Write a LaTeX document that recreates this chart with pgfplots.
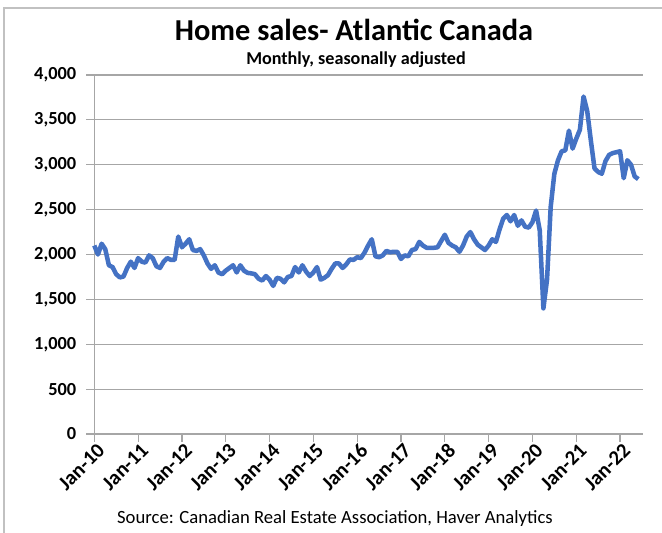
\documentclass[border=0pt]{standalone}
\usepackage{fontspec}
\setmainfont{Carlito}
\usepackage{pgfplots}
\pgfplotsset{compat=1.18}
\definecolor{exblue}{HTML}{4472C4}
\definecolor{gridgray}{HTML}{A6A6A6}

\begin{document}
\begin{tikzpicture}[x=0.75pt,y=0.75pt]
% fix page to 662x533 px, axis origin at px (94.3,434)
\path[use as bounding box] (-94.3,-99) rectangle (567.7,434);
\draw[gridgray!70,line width=0.9pt] (-90.3,-99) -- (-90.3,426) -- (567.7,426);
\begin{axis}[
  scale only axis,
  width=411.3pt, height=269.25pt,
  xmin=0, xmax=150.2, ymin=0, ymax=4000,
  axis lines*=left,
  axis line style={gridgray,line width=0.9pt},
  ytick={0,500,...,4000},
  xtick={0,12,...,144},
  xticklabels={Jan-10,Jan-11,Jan-12,Jan-13,Jan-14,Jan-15,Jan-16,Jan-17,Jan-18,Jan-19,Jan-20,Jan-21,Jan-22},
  x tick label style={rotate=45,anchor=north east,font=\bfseries\fontsize{15.5}{17}\selectfont,inner sep=1pt,xshift=2pt},
  y tick label style={font=\bfseries\fontsize{13.8}{15}\selectfont,xshift=-4pt},
  /pgf/number format/assume math mode=true,
  /pgf/number format/1000 sep={,},
  scaled y ticks=false,
  tick align=outside,
  major tick length=6pt,
  tick style={gridgray,line width=0.9pt},
  ymajorgrids,
  grid style={gridgray,line width=0.9pt},
  clip=false,
]
\addplot[exblue,line width=3.4pt,line join=round] coordinates {
(0,2100)(1,2000)(2,2120)(3,2060)(4,1880)(5,1860)(6,1780)(7,1745)(8,1755)(9,1850)
(10,1920)(11,1850)(12,1960)(13,1920)(14,1910)(15,1990)(16,1960)(17,1870)(18,1850)(19,1920)
(20,1960)(21,1940)(22,1940)(23,2200)(24,2080)(25,2120)(26,2170)(27,2050)(28,2040)(29,2060)
(30,1990)(31,1900)(32,1840)(33,1880)(34,1800)(35,1780)(36,1820)(37,1850)(38,1880)(39,1800)
(40,1880)(41,1820)(42,1795)(43,1790)(44,1780)(45,1730)(46,1710)(47,1760)(48,1720)(49,1650)
(50,1740)(51,1730)(52,1690)(53,1750)(54,1760)(55,1860)(56,1800)(57,1880)(58,1810)(59,1760)
(60,1800)(61,1860)(62,1720)(63,1740)(64,1770)(65,1840)(66,1900)(67,1900)(68,1850)(69,1890)
(70,1945)(71,1940)(72,1970)(73,1960)(74,2020)(75,2100)(76,2170)(77,1980)(78,1970)(79,1990)
(80,2040)(81,2025)(82,2030)(83,2030)(84,1950)(85,1990)(86,1980)(87,2050)(88,2060)(89,2140)
(90,2100)(91,2075)(92,2075)(93,2075)(94,2080)(95,2150)(96,2220)(97,2130)(98,2100)(99,2080)
(100,2030)(101,2100)(102,2200)(103,2250)(104,2170)(105,2110)(106,2080)(107,2050)(108,2100)(109,2170)
(110,2140)(111,2280)(112,2400)(113,2440)(114,2370)(115,2440)(116,2320)(117,2380)(118,2310)(119,2300)
(120,2360)(121,2490)(122,2270)(123,1400)(124,1720)(125,2530)(126,2900)(127,3050)(128,3150)(129,3160)
(130,3380)(131,3180)(132,3290)(133,3390)(134,3760)(135,3600)(136,3270)(137,2960)(138,2920)(139,2900)
(140,3040)(141,3110)(142,3130)(143,3140)(144,3150)(145,2850)(146,3050)(147,3000)(148,2870)(149,2840)
};
\end{axis}
\node[font=\bfseries\fontsize{22.8}{26}\selectfont] at (259.7,404) {Home sales- Atlantic Canada};
\node[font=\bfseries\fontsize{13.6}{16}\selectfont] at (261.7,374) {Monthly, seasonally adjusted};
\node[font=\fontsize{14}{16}\selectfont] at (240.7,-85) {Source: Canadian Real Estate Association, Haver Analytics};
\end{tikzpicture}
\end{document}
